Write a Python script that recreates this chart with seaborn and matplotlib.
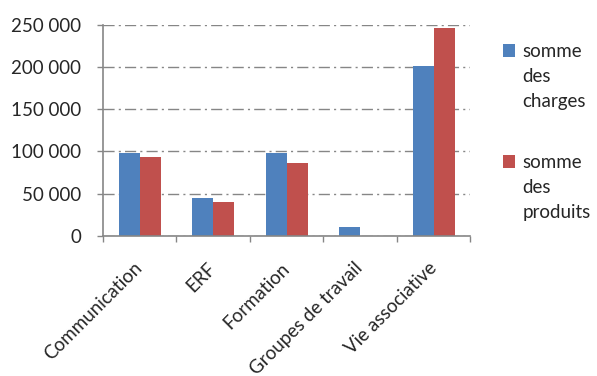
import matplotlib
matplotlib.use("Agg")
import matplotlib.pyplot as plt
import matplotlib.transforms as mtransforms
import seaborn as sns
import pandas as pd
from matplotlib.patches import Rectangle
from matplotlib.legend_handler import HandlerPatch
from matplotlib.ticker import FuncFormatter, FixedLocator

categories = ["Communication", "ERF", "Formation", "Groupes de travail", "Vie associative"]
charges = [98000, 44500, 98000, 10700, 201000]
produits = [93700, 40000, 86000, 0, 246000]
series_names = ["somme des charges", "somme des produits"]
legend_labels = ["somme\ndes\ncharges", "somme\ndes\nproduits"]
colors = ["#4F81BD", "#C0504D"]

df = pd.DataFrame({
    "categorie": categories * 2,
    "valeur": charges + produits,
    "serie": [series_names[0]] * len(categories) + [series_names[1]] * len(categories),
})

sns.set_style("white")
FONT = ["Lato", "DejaVu Sans"]
plt.rcParams["font.family"] = FONT
FS = 13.5

fig = plt.figure(figsize=(5.97, 3.76), dpi=100)
ax = fig.add_axes([0.1725, 0.373, 0.788 - 0.1725, 0.9335 - 0.373])

sns.barplot(data=df, x="categorie", y="valeur", hue="serie", order=categories,
            hue_order=series_names, palette=colors, width=0.573, ax=ax,
            saturation=1, edgecolor="none", linewidth=0, legend=False, errorbar=None)

ax.set_xlim(-0.5, len(categories) - 0.5)
ax.set_ylim(0, 250000)
ax.set_yticks(range(0, 250001, 50000))
ax.yaxis.set_major_formatter(FuncFormatter(lambda v, p: f"{int(v):,}".replace(",", " ")))
ax.set_xlabel("")
ax.set_ylabel("")

gray = "#868686"
ax.yaxis.grid(True, color=gray, linestyle=(0, (8, 3, 1.5, 3)), linewidth=1.0)
ax.xaxis.grid(False)
ax.set_axisbelow(True)
for s in ["top", "right"]:
    ax.spines[s].set_visible(False)
for s in ["left", "bottom"]:
    ax.spines[s].set_color(gray)
    ax.spines[s].set_linewidth(1.2)

ax.tick_params(axis="y", which="major", direction="out", length=4.5, width=1, color=gray,
               pad=11, labelsize=FS, left=True)
ax.tick_params(axis="x", which="major", length=0, pad=17, labelsize=FS)
ax.xaxis.set_minor_locator(FixedLocator([i - 0.5 for i in range(len(categories) + 1)]))
ax.tick_params(axis="x", which="minor", direction="out", length=4.5, width=1, color=gray, bottom=True)
shift = mtransforms.ScaledTranslation(-6 / 100, 0, fig.dpi_scale_trans)
for lab in ax.get_xticklabels():
    lab.set_rotation(45)
    lab.set_ha("right")
    lab.set_va("top")
    lab.set_rotation_mode("anchor")
    lab.set_transform(lab.get_transform() + shift)

handles = [Rectangle((0, 0), 1, 1, facecolor=c, edgecolor="none") for c in colors]
LS = 1.56
def make_patch(legend, orig_handle, xdescent, ydescent, width, height, fontsize):
    return Rectangle((-xdescent, -ydescent + 26.3 * 0.72), width, height)

leg = fig.legend(handles, legend_labels, loc="upper left",
                 bbox_to_anchor=(502.7 / 597, 1 - 43 / 376), frameon=False,
                 fontsize=FS, handlelength=0.66, handleheight=0.66, handletextpad=0.4,
                 borderpad=0, borderaxespad=0, labelspacing=2.37,
                 handler_map={Rectangle: HandlerPatch(patch_func=make_patch)})
for t in leg.get_texts():
    t.set_linespacing(LS)

fig.savefig("out.png", dpi=100)
